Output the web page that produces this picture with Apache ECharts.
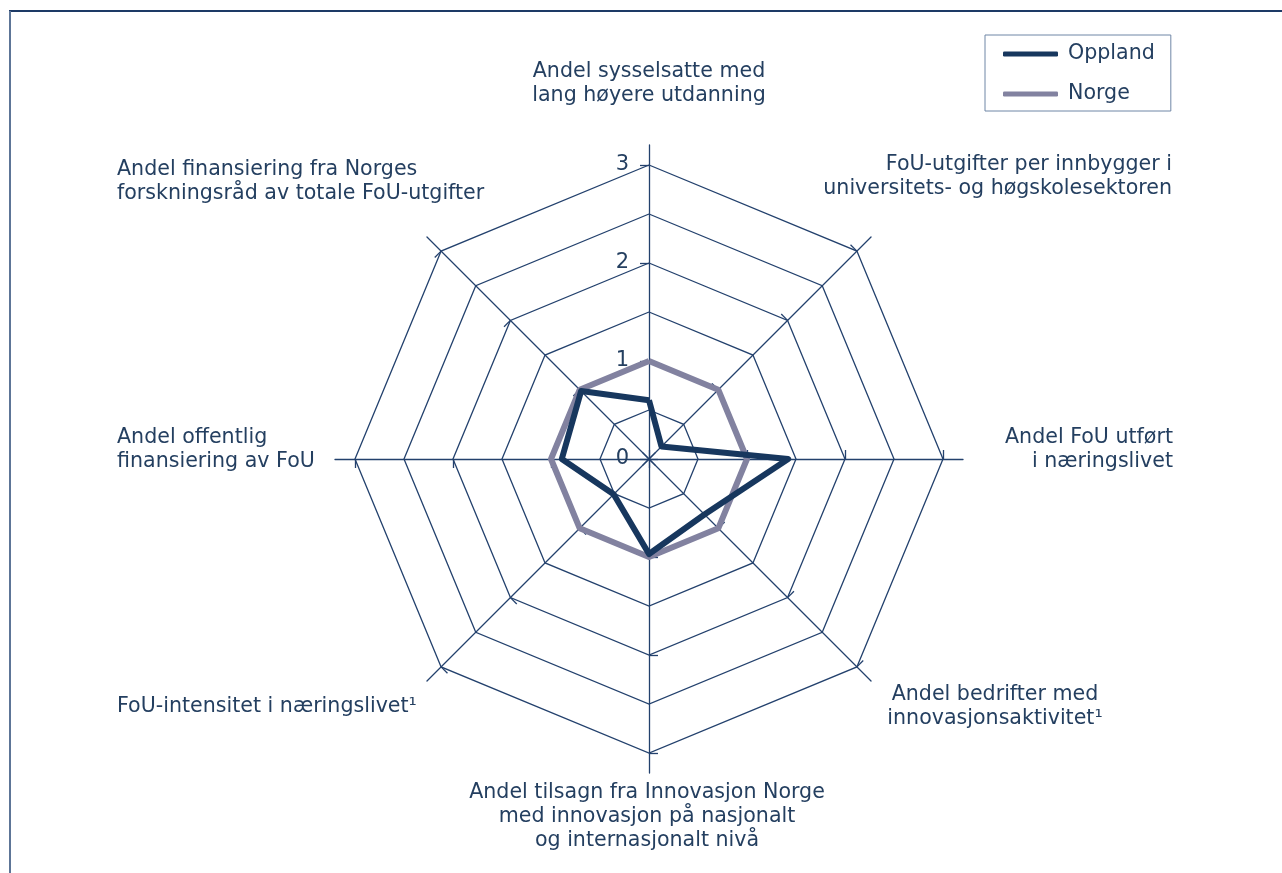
<!DOCTYPE html>
<html>
<head>
<meta charset="utf-8">
<script src="https://cdn.jsdelivr.net/npm/echarts@6/dist/echarts.min.js"></script>
<style>
  html, body { margin: 0; padding: 0; background: #fff; }
  #chart { width: 1282px; height: 873px; }
</style>
</head>
<body>
<div id="chart"></div>
<script>
  // indicators, counter-clockwise from the top (echarts radar order)
  const indicatorNames = [
    'Andel sysselsatte med\nlang høyere utdanning',
    'Andel finansiering fra Norges\nforskningsråd av totale FoU-utgifter',
    'Andel offentlig\nfinansiering av FoU',
    'FoU-intensitet i næringslivet¹',
    'Andel tilsagn fra Innovasjon Norge\nmed innovasjon på nasjonalt\nog internasjonalt nivå',
    'Andel bedrifter med\ninnovasjonsaktivitet¹',
    'Andel FoU utført\ni næringslivet',
    'FoU-utgifter per innbygger i\nuniversitets- og høgskolesektoren'
  ]
  const seriesNames = ['Oppland', 'Norge']
  const opplandValues = [0.60, 0.98, 0.89, 0.51, 0.97, 0.80, 1.42, 0.18]
  const norgeValues = [1, 1, 1, 1, 1, 1, 1, 1]
  const axisMax = 3

  const navy = '#17375e'
  const grey = '#8282a0'
  const gridColor = '#23416d'
  const textColor = '#243f60'
  const fontFamily = '"DejaVu Sans", Verdana, sans-serif'
  const fontSize = 20.6
  const center = [649, 459]

  // where each indicator name sits (same order as indicatorNames)
  const namePlaces = [
    { x: 649, y: 84, align: 'center' },
    { x: 117, y: 182, align: 'left' },
    { x: 117, y: 450, align: 'left' },
    { x: 117, y: 707, align: 'left' },
    { x: 647, y: 817, align: 'center' },
    { x: 995, y: 707, align: 'center' },
    { x: 1173, y: 450, align: 'right' },
    { x: 1172, y: 177, align: 'right' }
  ]

  const makeIndicators = (extra) => indicatorNames.map((n, i) => {
    const ind = { name: n, max: axisMax, min: 0 }
    if (extra && i === 0) Object.assign(ind, extra)
    return ind
  })

  const chart = echarts.init(document.getElementById('chart'))
  chart.setOption({
    animation: false,
    backgroundColor: '#fff',
    legend: {
      left: 985,
      top: 35,
      orient: 'vertical',
      data: seriesNames,
      icon: 'roundRect',
      itemWidth: 55,
      itemHeight: 5,
      itemGap: 16,
      padding: [7, 16, 5, 18],
      borderColor: '#6f86a6',
      borderWidth: 1,
      backgroundColor: '#fff',
      textStyle: { fontSize: fontSize, lineHeight: 24, color: textColor, fontFamily: fontFamily, padding: [0, 0, 0, 5] }
    },
    radar: [
      {
        // long spokes
        center: center,
        radius: 314,
        shape: 'polygon',
        indicator: makeIndicators(),
        axisName: { show: false },
        axisLine: { lineStyle: { color: gridColor, width: 1.3 } },
        splitLine: { show: false },
        splitArea: { show: false }
      },
      {
        // rings every 0.5
        center: center,
        radius: 294,
        shape: 'polygon',
        splitNumber: 6,
        indicator: makeIndicators(),
        axisName: { show: false },
        axisLine: { show: false },
        splitLine: { lineStyle: { color: gridColor, width: 1.3 } },
        splitArea: { show: false }
      },
      {
        // ticks + labels at whole numbers
        center: center,
        radius: 294,
        shape: 'polygon',
        splitNumber: 3,
        indicator: makeIndicators({ axisLabel: { show: true } }),
        axisName: { show: false },
        axisLine: { show: false },
        axisTick: { show: true, length: 9, lineStyle: { color: gridColor, width: 1.3 } },
        axisLabel: { show: false, fontSize: 21, color: textColor, fontFamily: fontFamily, margin: 20 },
        splitLine: { show: false },
        splitArea: { show: false }
      }
    ],
    series: [
      {
        type: 'radar',
        radarIndex: 1,
        symbol: 'none',
        data: [
          { name: 'Norge', value: norgeValues, lineStyle: { color: grey, width: 6 }, itemStyle: { color: grey } },
          { name: 'Oppland', value: opplandValues, lineStyle: { color: navy, width: 6 }, itemStyle: { color: navy } }
        ]
      }
    ],
    graphic: [
      { type: 'line', shape: { x1: 9, y1: 11, x2: 1282, y2: 11 }, style: { stroke: '#1d3a66', lineWidth: 2 } },
      { type: 'line', shape: { x1: 10, y1: 11, x2: 10, y2: 873 }, style: { stroke: '#5d7597', lineWidth: 2 } }
    ].concat(indicatorNames.map((n, i) => ({
      type: 'text',
      x: namePlaces[i].x,
      y: namePlaces[i].y,
      style: {
        text: n,
        font: fontSize + 'px ' + fontFamily,
        fill: textColor,
        textAlign: namePlaces[i].align,
        textVerticalAlign: 'middle',
        lineHeight: 24
      }
    })))
  })
</script>
</body>
</html>
